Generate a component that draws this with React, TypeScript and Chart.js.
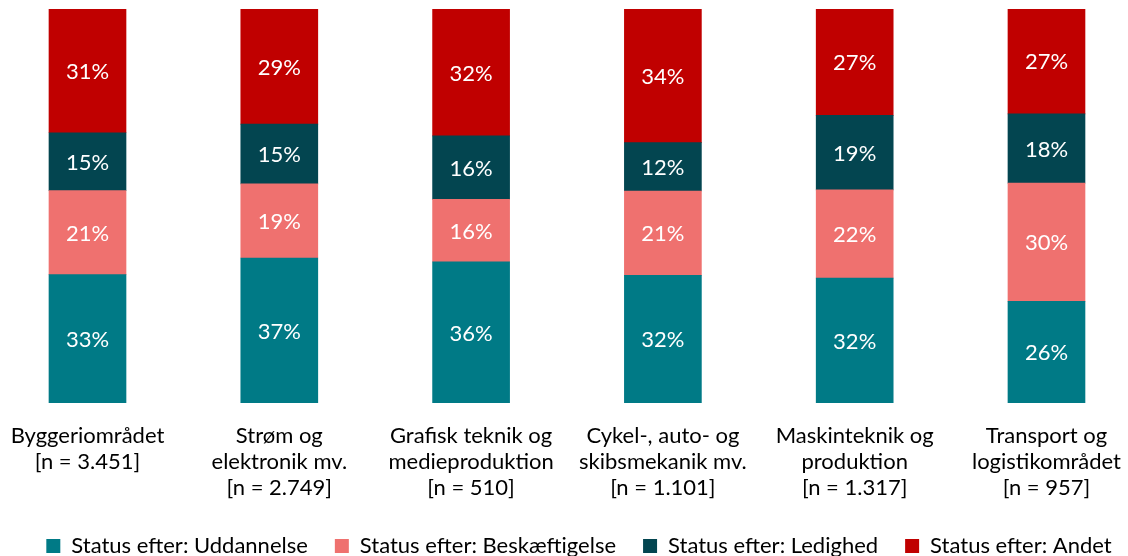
import React, { useEffect, useRef } from "react";
import { Chart, registerables } from "chart.js";

Chart.register(...registerables);

const categories: string[][] = [
  ["Byggeriområdet", "[n = 3.451]"],
  ["Strøm og", "elektronik mv.", "[n = 2.749]"],
  ["Grafisk teknik og", "medieproduktion", "[n = 510]"],
  ["Cykel-, auto- og", "skibsmekanik mv.", "[n = 1.101]"],
  ["Maskinteknik og", "produktion", "[n = 1.317]"],
  ["Transport og", "logistikområdet", "[n = 957]"],
];

const seriesNames = [
  "Status efter: Uddannelse",
  "Status efter: Beskæftigelse",
  "Status efter: Ledighed",
  "Status efter: Andet",
];

const uddannelse = [32.6, 36.8, 35.8, 32.4, 31.7, 25.8];
const beskaeftigelse = [21.3, 18.8, 15.9, 21.4, 22.4, 30.0];
const ledighed = [14.7, 15.2, 16.1, 12.3, 18.9, 17.6];
const andet = [31.4, 29.2, 32.2, 33.9, 27.0, 26.6];

const seriesColors = ["#007A86", "#EF716F", "#034550", "#C00000"];

const FONT = "Lato";

const valueLabels = {
  id: "valueLabels",
  afterDatasetsDraw(chart: any) {
    const ctx = chart.ctx;
    ctx.save();
    ctx.font = `22px ${FONT}`;
    ctx.fillStyle = "#ffffff";
    ctx.textAlign = "center";
    ctx.textBaseline = "middle";
    chart.data.datasets.forEach((ds: any, di: number) => {
      const meta = chart.getDatasetMeta(di);
      meta.data.forEach((el: any, i: number) => {
        const v = ds.data[i].y;
        const { x, y, base } = el.getProps(["x", "y", "base"], true);
        ctx.fillText(Math.round(v) + "%", x, (y + base) / 2 + 1);
      });
    });
    ctx.restore();
  },
};

export default function App() {
  const ref = useRef<HTMLCanvasElement | null>(null);

  useEffect(() => {
    document.body.style.margin = "0";
    if (!ref.current) return;
    const allSeries = [uddannelse, beskaeftigelse, ledighed, andet];
    const chart = new Chart(ref.current, {
      type: "bar",
      data: {
        datasets: allSeries.map((vals, si) => ({
          label: seriesNames[si],
          data: vals.map((v, i) => ({ x: i, y: v })),
          backgroundColor: seriesColors[si],
          borderWidth: 0,
          barThickness: 77,
        })),
      },
      options: {
        responsive: false,
        animation: false,
        layout: { padding: { top: 9, left: 15, right: -15, bottom: -11 } },
        plugins: {
          tooltip: { enabled: false },
          legend: {
            position: "bottom",
            labels: {
              font: { family: FONT, size: 22 },
              color: "#000000",
              boxWidth: 14,
              boxHeight: 14,
              padding: 27,
            },
          },
        },
        scales: {
          x: {
            type: "linear",
            offset: false,
            stacked: true,
            min: -0.378,
            max: 5.425,
            grid: { display: false, drawTicks: false, offset: false },
            border: { display: false },
            ticks: {
              stepSize: 1,
              includeBounds: false,
              autoSkip: false,
              maxRotation: 0,
              padding: 20,
              color: "#000000",
              font: { family: FONT, size: 22, lineHeight: 26 / 22 },
              callback: (v: any) =>
                Number.isInteger(v) && categories[v] ? categories[v] : "",
            },
            afterFit: (scale: any) => {
              scale.height = 105;
              scale.paddingLeft = 0;
              scale.paddingRight = 0;
            },
          },
          y: {
            stacked: true,
            min: 0,
            max: 100,
            display: false,
          },
        },
      },
      plugins: [valueLabels],
    } as any);
    return () => chart.destroy();
  }, []);

  return (
    <div style={{ width: 1128, height: 556 }}>
      <canvas ref={ref} width={1128} height={556} style={{ display: "block" }} />
    </div>
  );
}
